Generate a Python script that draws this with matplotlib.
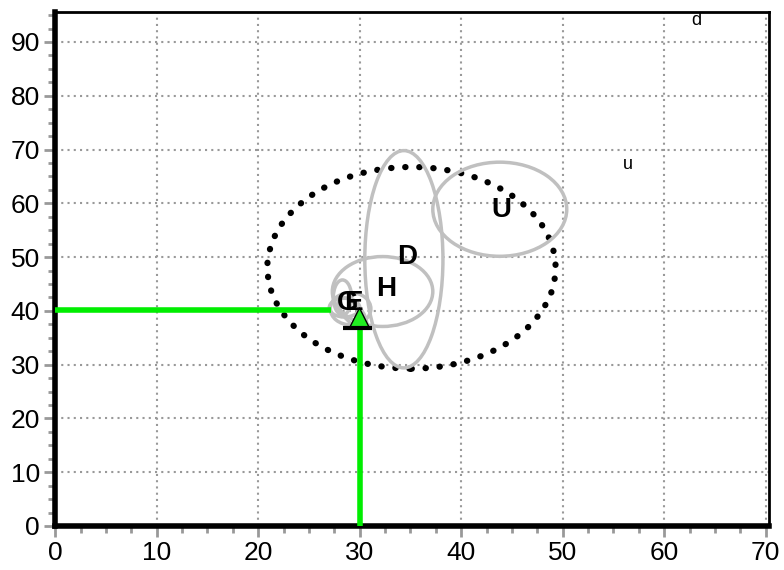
import matplotlib
matplotlib.use("Agg")
import matplotlib.pyplot as plt
from matplotlib.patches import Ellipse
from matplotlib.ticker import MultipleLocator

plt.rcParams['font.family'] = ['Liberation Sans', 'DejaVu Sans']

# Grey ellipses: centre x, centre y, width, height, angle
ell_x = [34.35, 43.8, 32.25, 28.3, 29.1, 28.5, 29.3]
ell_y = [49.6, 58.9, 43.6, 42.5, 40.4, 40.6, 39.6]
ell_w = [7.7, 13.2, 9.9, 1.8, 4.0, 3.0, 2.0]
ell_h = [40.4, 17.5, 13.0, 6.5, 6.0, 3.5, 6.0]
ell_a = [0, 0, 0, 0, 0, 0, 20]

# Dotted black ellipse
big_center = (35.1, 48.0)
big_w, big_h = 28.4, 37.5

# Bold labels
lab_text = ["D", "U", "H", "G", "E"]
lab_x = [34.7, 44.0, 32.6, 28.8, 29.4]
lab_y = [50.1, 58.8, 44.0, 41.4, 41.4]

# Small labels
small_text = ["d", "u"]
small_x = [63.2, 56.4]
small_y = [94.0, 67.2]

# Green guide lines
target_x, target_y = 30.0, 40.2
marker_x, marker_y = 29.9, 38.6

fig = plt.figure(figsize=(7.84, 5.70), dpi=100)
ax = fig.add_axes([0.0705, 0.0772, 0.910, 0.902])
ax.set_xlim(0, 70.3)
ax.set_ylim(0, 95.6)

ax.xaxis.set_major_locator(MultipleLocator(10))
ax.xaxis.set_minor_locator(MultipleLocator(2.5))
ax.yaxis.set_major_locator(MultipleLocator(10))
ax.yaxis.set_minor_locator(MultipleLocator(2.5))
ax.grid(True, which='major', color='#999999', linestyle=(0, (1, 2.0)), linewidth=1.5)
ax.set_axisbelow(True)

ax.tick_params(which='major', length=8, width=2, color='#999999', labelsize=19, pad=3)
ax.tick_params(which='minor', length=5, width=2, color='#999999')

for s in ['left', 'bottom']:
    ax.spines[s].set_linewidth(4)
for s in ['top', 'right']:
    ax.spines[s].set_linewidth(2)

# big dotted ellipse
ax.add_patch(Ellipse(big_center, big_w, big_h, fill=False, edgecolor='black',
                     linewidth=4.5, linestyle=(0, (0.05, 2.2)), capstyle='round', zorder=3))

for x, y, w, h, a in zip(ell_x, ell_y, ell_w, ell_h, ell_a):
    ax.add_patch(Ellipse((x, y), w, h, angle=a, fill=False, edgecolor='#c0c0c0',
                         linewidth=2.5, zorder=4))

# green lines
ax.plot([0, target_x - 2.8], [target_y, target_y], color='#00ee00', linewidth=4, zorder=5, solid_capstyle='butt')
ax.plot([target_x, target_x], [0, marker_y - 1.6], color='#00ee00', linewidth=4, zorder=5, solid_capstyle='butt')

# triangle marker
ax.scatter([marker_x], [marker_y], marker='^', s=230, facecolor='#22ee22', edgecolor='black',
           linewidth=1.0, zorder=6)
ax.plot([marker_x - 1.5, marker_x + 1.3], [marker_y - 1.7, marker_y - 1.7], color='black',
        linewidth=3, zorder=6, solid_capstyle='butt')

for t, x, y in zip(lab_text, lab_x, lab_y):
    ax.text(x, y, t, fontsize=20, fontweight='bold', ha='center', va='center', zorder=7)

for t, x, y in zip(small_text, small_x, small_y):
    ax.text(x, y, t, fontsize=13, ha='center', va='center', zorder=7)

fig.savefig("out.png", dpi=100)
